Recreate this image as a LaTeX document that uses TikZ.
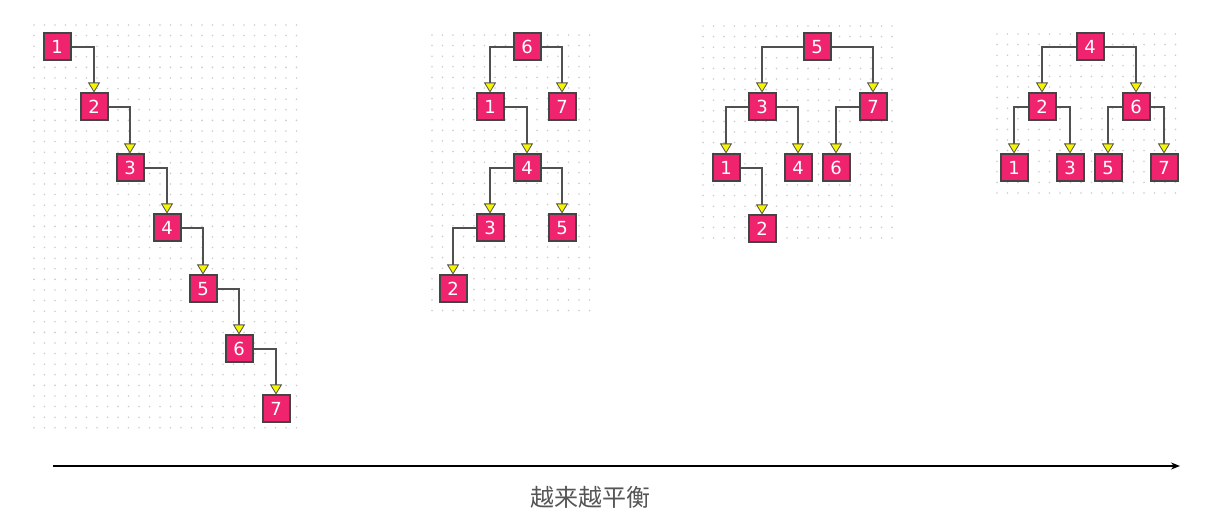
\documentclass[tikz,border=0pt]{standalone}
\usepackage{fontspec}
\setmainfont{DejaVu Sans}
\newfontfamily\cjk{Noto Sans CJK SC}
\usetikzlibrary{arrows.meta}
\definecolor{nodepink}{HTML}{F0236E}
\definecolor{nodeborder}{HTML}{444444}
\definecolor{edgegray}{HTML}{505050}
\definecolor{dotgray}{HTML}{CCCCCC}
\definecolor{tipyellow}{HTML}{F5F500}
\definecolor{labelgray}{HTML}{555555}
\tikzset{
  tn/.style={draw=nodeborder, line width=2pt, fill=nodepink, minimum size=27pt,
    inner sep=0pt, text=white, font=\fontsize{18}{18}\selectfont},
  ed/.style={draw=edgegray, line width=2pt,
    -{Triangle[width=12pt,length=10pt,fill=tipyellow,line width=0.8pt]}},
}
% #1 x0, #2 number of x steps, #3 y0, #4 number of y steps
\newcommand{\dotgrid}[4]{%
  \foreach \ii in {0,...,#2} {
    \foreach \jj in {0,...,#4} {
      \fill[dotgray] ({#1+10.5*\ii},{#3+10.6*\jj}) circle (0.9);
    }
  }%
}
\begin{document}
\begin{tikzpicture}[x=1pt,y=-1pt]
\useasboundingbox (0,0) rectangle (1219,518);
\dotgrid{34}{25}{25}{38}
\dotgrid{432}{15}{35}{26}
\dotgrid{703}{18}{26}{20}
\dotgrid{997}{17}{34}{15}

% panel 1
\node[tn] (a1) at (57,47) {1};
\node[tn] (a2) at (94,107) {2};
\node[tn] (a3) at (130,168) {3};
\node[tn] (a4) at (167,228) {4};
\node[tn] (a5) at (203,289) {5};
\node[tn] (a6) at (239,349) {6};
\node[tn] (a7) at (276,409) {7};
\draw[ed] (a1.east) -| (a2.north);
\draw[ed] (a2.east) -| (a3.north);
\draw[ed] (a3.east) -| (a4.north);
\draw[ed] (a4.east) -| (a5.north);
\draw[ed] (a5.east) -| (a6.north);
\draw[ed] (a6.east) -| (a7.north);

% panel 2
\node[tn] (b6) at (527,47) {6};
\node[tn] (b1) at (490,107) {1};
\node[tn] (b7) at (562,107) {7};
\node[tn] (b4) at (527,168) {4};
\node[tn] (b3) at (490,228) {3};
\node[tn] (b5) at (562,228) {5};
\node[tn] (b2) at (453,289) {2};
\draw[ed] (b6.west) -| (b1.north);
\draw[ed] (b6.east) -| (b7.north);
\draw[ed] (b1.east) -| (b4.north);
\draw[ed] (b4.west) -| (b3.north);
\draw[ed] (b4.east) -| (b5.north);
\draw[ed] (b3.west) -| (b2.north);

% panel 3
\node[tn] (c5) at (817,47) {5};
\node[tn] (c3) at (762,107) {3};
\node[tn] (c7) at (873,107) {7};
\node[tn] (c1) at (726,168) {1};
\node[tn] (c4) at (798,168) {4};
\node[tn] (c6) at (836,168) {6};
\node[tn] (c2) at (762,229) {2};
\draw[ed] (c5.west) -| (c3.north);
\draw[ed] (c5.east) -| (c7.north);
\draw[ed] (c3.west) -| (c1.north);
\draw[ed] (c3.east) -| (c4.north);
\draw[ed] (c7.west) -| (c6.north);
\draw[ed] (c1.east) -| (c2.north);

% panel 4
\node[tn] (d4) at (1090,47) {4};
\node[tn] (d2) at (1042,107) {2};
\node[tn] (d6) at (1136,107) {6};
\node[tn] (d1) at (1014,168) {1};
\node[tn] (d3) at (1070,168) {3};
\node[tn] (d5) at (1108,168) {5};
\node[tn] (d7) at (1164,168) {7};
\draw[ed] (d4.west) -| (d2.north);
\draw[ed] (d4.east) -| (d6.north);
\draw[ed] (d2.west) -| (d1.north);
\draw[ed] (d2.east) -| (d3.north);
\draw[ed] (d6.west) -| (d5.north);
\draw[ed] (d6.east) -| (d7.north);

% axis
\coordinate (s) at (53,466);
\coordinate (e) at (1180,466);
\draw[line width=1.6pt, -{Stealth[length=9pt,width=7pt]}] (s) -- (e);
\node[text=labelgray, font=\cjk\fontsize{24}{24}\selectfont] (lbl) at (590,497) {越来越平衡};
\end{tikzpicture}
\end{document}
